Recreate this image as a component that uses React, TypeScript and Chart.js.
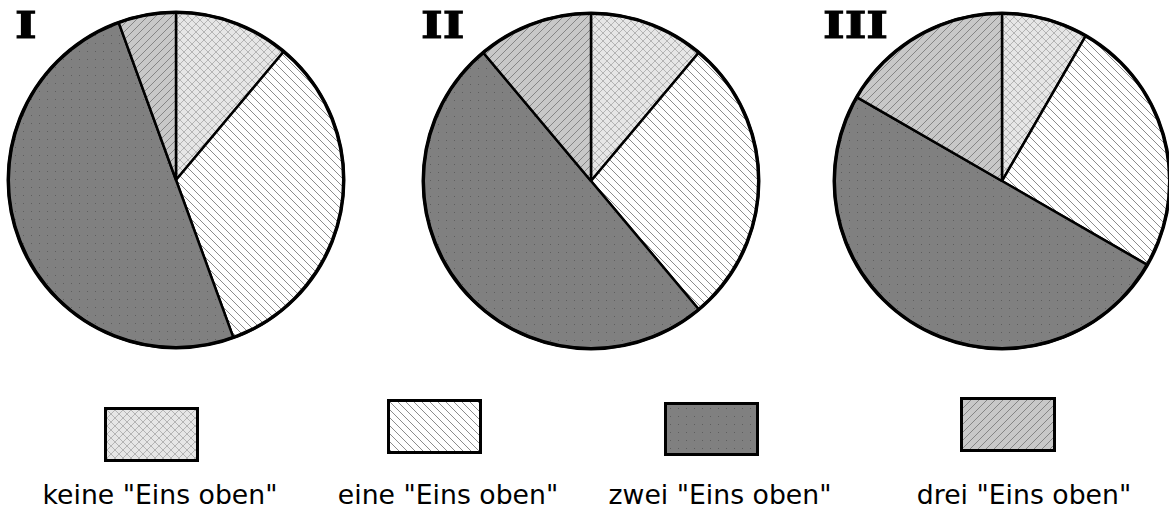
import React, { useEffect, useRef } from "react";
import { Chart, registerables } from "chart.js";

Chart.register(...registerables);

// ---- data ----
const categories = ['keine "Eins oben"', 'eine "Eins oben"', 'zwei "Eins oben"', 'drei "Eins oben"'];
const pieTitles = ["I", "II", "III"];
const valuesI = [2, 6, 9, 1];
const valuesII = [2, 5, 9, 2];
const valuesIII = [1, 3, 6, 2];
const pieValues = [valuesI, valuesII, valuesIII];

// ---- layout ----
const W = 1169;
const H = 509;
const CANVAS = 360;
const PAD = 11;
const pieCenters = [
  { x: 176, y: 180 },
  { x: 591, y: 181 },
  { x: 1002, y: 181 },
];
const titlePos = [
  { x: 15, y: 6 },
  { x: 421, y: 6 },
  { x: 823, y: 6 },
];
const swatchBoxes = [
  { x: 104, y: 407, w: 95, h: 55 },
  { x: 387, y: 399, w: 95, h: 55 },
  { x: 664, y: 402, w: 95, h: 54 },
  { x: 960, y: 397, w: 96, h: 55 },
];
const legendTextCenters = [160, 448, 720, 1024];

type PatKind = "cross" | "back" | "dots" | "fwd";
const patternKinds: PatKind[] = ["cross", "back", "dots", "fwd"];

function makeTile(kind: PatKind): HTMLCanvasElement {
  const s = 8;
  const c = document.createElement("canvas");
  c.width = s;
  c.height = s;
  const ctx = c.getContext("2d")!;
  if (kind === "cross") {
    ctx.fillStyle = "#e6e6e6";
    ctx.fillRect(0, 0, s, s);
    ctx.fillStyle = "#b4b4b4";
    for (let i = 0; i < s; i++) {
      ctx.fillRect(i, i, 1, 1);
      ctx.fillRect(i, s - 1 - i, 1, 1);
    }
  } else if (kind === "back") {
    ctx.fillStyle = "#ffffff";
    ctx.fillRect(0, 0, s, s);
    ctx.fillStyle = "#8c8c8c";
    for (let i = 0; i < s; i++) ctx.fillRect(i, i, 1, 1);
  } else if (kind === "dots") {
    ctx.fillStyle = "#808080";
    ctx.fillRect(0, 0, s, s);
    ctx.fillStyle = "#5e5e5e";
    ctx.fillRect(3, 3, 1, 1);
  } else {
    ctx.fillStyle = "#c8c8c8";
    ctx.fillRect(0, 0, s, s);
    ctx.fillStyle = "#858585";
    for (let i = 0; i < s; i++) ctx.fillRect(i, s - 1 - i, 1, 1);
  }
  return c;
}

const outerRing = {
  id: "outerRing",
  afterDatasetsDraw(chart: any) {
    const meta = chart.getDatasetMeta(0);
    const arc = meta.data[0];
    if (!arc) return;
    const { x, y, outerRadius } = arc.getProps(["x", "y", "outerRadius"], true);
    const ctx = chart.ctx;
    ctx.save();
    ctx.beginPath();
    ctx.arc(x, y, outerRadius, 0, Math.PI * 2);
    ctx.lineWidth = 3.5;
    ctx.strokeStyle = "#000";
    ctx.stroke();
    ctx.restore();
  },
};

function Pie({ idx }: { idx: number }) {
  const ref = useRef<HTMLCanvasElement>(null);
  useEffect(() => {
    const canvas = ref.current!;
    const ctx = canvas.getContext("2d")!;
    const patterns = patternKinds.map((k) => ctx.createPattern(makeTile(k), "repeat")!);
    const chart = new Chart(canvas, {
      type: "pie",
      data: {
        labels: categories,
        datasets: [
          {
            data: pieValues[idx],
            backgroundColor: patterns as any,
            borderColor: "#000",
            borderWidth: 2.5,
          },
        ],
      },
      options: {
        responsive: false,
        animation: false,
        events: [],
        layout: { padding: PAD },
        plugins: {
          legend: { display: false },
          tooltip: { enabled: false },
          title: { display: false },
        },
      },
      plugins: [outerRing],
    });
    return () => chart.destroy();
  }, [idx]);
  const c = pieCenters[idx];
  return (
    <canvas
      ref={ref}
      width={CANVAS}
      height={CANVAS}
      style={{
        position: "absolute",
        left: c.x - CANVAS / 2,
        top: c.y - CANVAS / 2,
        width: CANVAS,
        height: CANVAS,
      }}
    />
  );
}

function Swatch({ i }: { i: number }) {
  const ref = useRef<HTMLDivElement>(null);
  useEffect(() => {
    const url = makeTile(patternKinds[i]).toDataURL();
    if (ref.current) ref.current.style.backgroundImage = `url(${url})`;
  }, [i]);
  const b = swatchBoxes[i];
  return (
    <div
      ref={ref}
      style={{
        position: "absolute",
        left: b.x,
        top: b.y,
        width: b.w,
        height: b.h,
        boxSizing: "border-box",
        border: "3px solid #000",
        backgroundRepeat: "repeat",
      }}
    />
  );
}

export default function App() {
  useEffect(() => {
    document.body.style.margin = "0";
    document.body.style.background = "#fff";
  }, []);
  return (
    <div
      style={{
        position: "relative",
        width: W,
        height: H,
        overflow: "hidden",
        background: "#fff",
      }}
    >
      {pieTitles.map((_, i) => (
        <Pie key={"p" + i} idx={i} />
      ))}
      {pieTitles.map((t, i) => (
        <div
          key={"t" + i}
          style={{
            position: "absolute",
            left: titlePos[i].x,
            top: titlePos[i].y,
            fontFamily: "'DejaVu Serif', serif",
            fontWeight: "bold",
            fontSize: 38,
            lineHeight: 1,
            color: "#000",
            whiteSpace: "nowrap",
            transform: "scaleX(1.22)",
            transformOrigin: "left top",
            WebkitTextStroke: "1px #000",
          }}
        >
          {t}
        </div>
      ))}
      {categories.map((_, i) => (
        <Swatch key={"s" + i} i={i} />
      ))}
      {categories.map((c, i) => (
        <div
          key={"l" + i}
          style={{
            position: "absolute",
            left: legendTextCenters[i] - 170,
            width: 340,
            top: 481.5,
            textAlign: "center",
            fontFamily: "'DejaVu Sans', sans-serif",
            fontSize: 26.7,
            lineHeight: 1,
            color: "#000",
            whiteSpace: "nowrap",
          }}
        >
          {c}
        </div>
      ))}
    </div>
  );
}
